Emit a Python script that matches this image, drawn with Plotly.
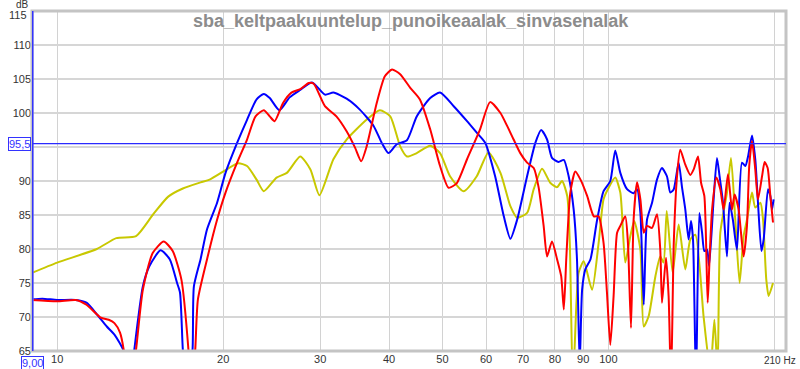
import math
import plotly.graph_objects as go

title_text = "sba_keltpaakuuntelup_punoikeaalak_sinvasenalak"

# ---- yellow series (keltainen) ----
yellow_f = [9.0, 10.0, 11.8, 12.8, 13.9, 14.9, 15.9, 16.9, 18.2, 18.9, 20.3, 21.3, 22.1, 23.0, 23.7,
            25.0, 26.1, 27.6, 28.8, 29.9, 31.7, 33.5, 36.4, 38.5, 40.2, 41.9, 43.1, 44.9, 47.5, 49.5,
            51.6, 54.6, 57.7, 60.6, 63.7, 66.4, 68.3, 71.2, 73.2, 75.8, 78.5, 80.7, 82.4, 84.2, 85.1,
            86.2, 87.5, 88.3, 90.2, 93.4, 96.0, 98.0, 100.1, 102.9, 105.1, 107.3, 109.6, 111.4, 114.3,
            115.9, 118.3, 121.7, 124.2, 125.9, 127.6, 130.8, 134.1, 137.9, 140.8, 143.8, 148.9, 153.1,
            155.7, 157.8, 159.6, 164.1, 166.9, 169.9, 173.0, 175.9, 178.4, 182.2, 184.7, 188.7, 190.8,
            193.4, 195.3, 198.9]
yellow_db = [76.5, 78.0, 80.0, 81.6, 81.9, 85.0, 87.7, 88.9, 89.8, 90.2, 91.7, 92.6, 92.2, 90.2, 88.5,
             90.5, 91.2, 93.6, 91.7, 87.9, 93.2, 96.1, 99.0, 100.4, 99.5, 95.1, 93.6, 94.1, 95.2, 94.1,
             90.7, 88.5, 90.7, 94.2, 91.2, 86.3, 84.6, 85.3, 88.8, 91.8, 89.7, 89.1, 90.0, 87.8, 80.9,
             60.0, 72.0, 76.5, 78.2, 74.0, 80.9, 87.3, 89.0, 90.5, 88.3, 78.0, 81.9, 84.1, 79.9,
             68.6, 70.1, 76.0, 78.9, 78.0, 85.6, 76.5, 83.6, 77.0, 81.4, 82.1, 69.9, 62.0,
             69.6, 62.0, 82.4, 88.3, 93.4, 84.3, 75.0, 81.9, 84.3, 88.3, 86.1, 86.8, 84.3,
             75.5, 73.1, 75.0]

# ---- blue series (sininen, vasen) ----
blue_f = [9.0, 9.4, 10.0, 10.8, 11.3, 11.8, 12.3, 12.7, 13.2, 13.5,
          13.8, 14.3, 14.7, 15.4, 16.0, 16.5, 16.7, 16.9, 17.2, 17.6,
          17.7, 18.2, 18.7, 19.5, 20.2, 21.2, 22.1, 23.0, 23.7, 24.3,
          25.3, 26.4, 27.6, 29.0, 30.6, 31.7, 33.5, 35.4, 37.5, 38.8,
          39.9, 41.3, 43.1, 44.9, 47.5, 49.5, 52.4, 55.4, 57.7, 59.8,
          62.3, 64.6, 66.4, 68.3, 71.2, 73.7, 75.5, 77.4, 79.0, 81.2,
          83.0, 84.7, 86.5, 87.7, 88.7, 89.6, 90.8, 92.8, 95.4, 98.0,
          100.8, 102.9, 105.1, 108.1, 111.1, 112.7, 114.3, 115.9, 117.5, 120.0,
          122.5, 125.1, 127.7, 129.5, 131.4, 134.1, 136.0, 137.9, 139.8, 141.2,
          142.4, 144.2, 146.2, 147.9, 149.3, 151.0, 152.3, 155.2, 157.4, 159.1,
          161.4, 164.1, 165.9, 168.2, 171.1, 174.7, 177.2, 179.2, 182.2, 184.7,
          186.8, 189.5, 191.3, 194.8, 196.7, 198.1, 199.4]
blue_db = [72.6, 72.7, 72.5, 72.5, 72.1, 70.4, 68.6, 67.4, 65.0, 58.0,
           65.2, 74.5, 77.5, 79.8, 78.5, 75.0, 73.6, 65.2, 58.0, 65.2,
           74.5, 78.5, 82.9, 86.8, 91.2, 95.6, 99.0, 102.0, 102.8, 102.2,
           100.4, 102.3, 103.4, 104.5, 102.7, 103.0, 102.1, 100.5, 98.1, 95.6,
           94.1, 95.4, 96.0, 99.5, 102.2, 103.0, 101.0, 98.8, 97.1, 95.6,
           90.7, 84.8, 81.5, 84.3, 90.7, 95.6, 97.5, 96.1, 93.4, 92.8,
           93.1, 90.7, 85.8, 78.5, 63.0, 74.0, 77.0, 78.5, 84.3, 88.5,
           90.0, 94.5, 91.2, 88.8, 88.2, 88.8, 85.3, 71.8, 84.3, 86.8,
           90.2, 91.9, 90.7, 88.3, 88.8, 92.7, 89.1, 85.8, 81.4, 84.1,
           81.4, 60.0, 85.3, 82.4, 79.7, 79.9, 77.5, 87.3, 93.4, 90.7,
           86.8, 78.9, 86.8, 84.3, 79.9, 92.7, 92.2, 93.6, 96.7, 93.2,
           86.8, 79.7, 81.4, 88.8, 87.8, 85.8, 87.3]

# ---- red series (punainen, oikea) ----
red_f = [9.0, 10.0, 10.8, 11.3, 12.0, 12.4, 12.7, 13.0, 13.2, 13.5,
         13.9, 14.3, 14.9, 15.6, 16.2, 16.8, 17.3, 17.5, 17.8, 18.0,
         18.7, 19.5, 20.2, 21.2, 22.1, 22.9, 23.7, 24.3, 24.8, 25.7,
         26.6, 27.6, 28.6, 29.2, 30.6, 32.1, 33.5, 34.7, 35.6, 36.4,
         38.0, 39.3, 40.5, 41.9, 43.7, 45.5, 47.5, 49.5, 51.3, 53.1,
         55.4, 58.5, 61.0, 63.7, 65.5, 67.3, 69.2, 71.2, 73.2, 74.7,
         76.3, 77.4, 79.0, 80.7, 82.1, 83.0, 83.9, 85.3, 87.1, 89.0,
         91.5, 94.1, 96.0, 98.0, 99.4, 100.8, 102.2, 103.7, 105.1, 107.3,
         108.5, 109.9, 111.1, 112.7, 114.3, 115.9, 117.5, 120.0, 122.5, 124.2,
         125.1, 127.2, 128.6, 129.9, 131.4, 133.2, 135.0, 137.9, 140.8, 142.8,
         145.4, 147.3, 149.3, 151.4, 152.5, 154.2, 157.0, 159.6, 161.8, 164.8,
         167.6, 169.4, 172.3, 175.9, 178.4, 180.1, 182.2, 184.7, 186.8, 190.0,
         192.1, 194.5, 196.7, 198.9]
red_db = [72.5, 72.3, 72.5, 71.8, 69.9, 69.6, 69.1, 67.7, 65.2, 58.0,
          65.2, 74.0, 79.4, 81.1, 79.7, 75.5, 65.2, 58.0, 65.2, 72.6,
          78.5, 84.3, 88.3, 92.7, 96.1, 99.5, 100.4, 99.5, 98.8, 101.5,
          103.0, 103.5, 104.4, 104.3, 101.0, 99.5, 97.3, 94.9, 92.9, 95.0,
          101.5, 105.4, 106.4, 105.7, 103.7, 102.0, 97.6, 92.2, 89.0, 89.7,
          93.2, 97.6, 101.6, 100.0, 98.1, 96.1, 94.1, 92.7, 91.9, 89.1,
          83.4, 78.9, 81.1, 78.5, 76.0, 71.1, 78.9, 88.3, 91.4, 90.2,
          87.8, 84.8, 84.8, 80.9, 73.6, 65.9, 73.1, 82.4, 83.4, 84.8,
          80.9, 68.4, 84.3, 89.8, 87.3, 82.4, 83.4, 83.1, 85.1, 79.9,
          72.1, 78.7, 73.1, 60.0, 80.9, 90.7, 94.6, 92.4, 90.9, 91.7,
          93.6, 89.7, 87.8, 72.1, 78.0, 85.8, 90.5, 88.8, 85.8, 91.0,
          85.8, 88.0, 85.8, 78.9, 83.4, 92.2, 95.9, 91.7, 87.3, 90.7,
          92.8, 91.9, 87.8, 83.9]

# axis settings
x_min, x_max = 9.0, 210.0
y_min, y_max = 65, 115
x_tick_vals = [10, 20, 30, 40, 50, 60, 70, 80, 90, 100, 200]
x_tick_text = ["10", "20", "30", "40", "50", "60", "70", "80", "90", "100", ""]
y_tick_vals = [65, 70, 75, 80, 85, 90, 95, 100, 105, 110, 115]
y_tick_text = ["65", "70", "75", "80", "85", "90", "", "100", "105", "110", ""]
y_top_label = "115"
cursor_db = 95.5
cursor_db_label = "95,5"
cursor_f_label = "9,00"

fig = go.Figure()
series = [
    (yellow_f, yellow_db, "#c8c800"),
    (blue_f, blue_db, "#0000ff"),
    (red_f, red_db, "#ff0000"),
]
for fx, dy, col in series:
    fig.add_trace(go.Scatter(x=fx, y=dy, mode="lines",
                             line=dict(color=col, width=2, shape="spline", smoothing=0.6),
                             hoverinfo="skip"))

fig.update_layout(
    width=800, height=369,
    margin=dict(l=32, r=14, t=11, b=18, autoexpand=False),
    paper_bgcolor="white", plot_bgcolor="white",
    showlegend=False,
    font=dict(family="Liberation Sans, Arial, sans-serif", size=11, color="#333333"),
)
fig.update_xaxes(type="log", range=[math.log10(x_min), math.log10(x_max)],
                 tickmode="array", tickvals=x_tick_vals, ticktext=x_tick_text,
                 showgrid=True, gridcolor="#d2d2d2", gridwidth=1, automargin=False,
                 zeroline=False, showline=False, ticks="")
fig.update_yaxes(range=[y_min, y_max], tickmode="array", tickvals=y_tick_vals, ticktext=y_tick_text,
                 showgrid=True, gridcolor="#d6d6d6", gridwidth=1.5, automargin=False,
                 zeroline=False, showline=False, ticks="")

# frame
fig.add_shape(type="rect", xref="paper", yref="paper", x0=0, x1=1, y0=0, y1=1,
              line=dict(color="#c4c4c4", width=3), layer="above")
# cursor lines
fig.add_shape(type="line", xref="paper", yref="y", x0=0, x1=1, y0=cursor_db, y1=cursor_db,
              line=dict(color="#2a2aff", width=1.2), layer="above")
fig.add_shape(type="line", xref="paper", yref="paper", x0=0.001, x1=0.001, y0=0, y1=1,
              line=dict(color="#3333ff", width=1.5), layer="above")

# title
fig.add_annotation(text=title_text, xref="paper", yref="paper", x=0.503, y=1,
                   yanchor="middle", yshift=-10, showarrow=False,
                   font=dict(size=18, color="#8c8c8c", weight="bold"))
# axis unit labels
fig.add_annotation(text="dB", xref="paper", yref="paper", x=0, y=1, xanchor="center",
                   xshift=-10, yanchor="bottom", yshift=-1,
                   showarrow=False, font=dict(size=10, color="#333333"))
fig.add_annotation(text=y_top_label, xref="paper", yref="y", x=0, y=y_max, xanchor="right",
                   xshift=-3, yanchor="middle", yshift=-4,
                   showarrow=False, font=dict(size=11, color="#333333"))
fig.add_annotation(text="210 Hz", xref="paper", yref="paper", x=1, y=0, xanchor="right",
                   xshift=12, yanchor="top", yshift=-2,
                   showarrow=False, font=dict(size=10, color="#333333"))
# cursor value boxes
fig.add_annotation(text=cursor_f_label, xref="paper", yref="paper", x=0, y=0, xanchor="center",
                   yanchor="top", yshift=-5, showarrow=False, bgcolor="white",
                   bordercolor="#3333ff", borderwidth=1, borderpad=0,
                   font=dict(size=11, color="#3333ff"))
fig.add_annotation(text=cursor_db_label, xref="paper", yref="y", x=0, y=cursor_db, xanchor="right",
                   xshift=-1, showarrow=False, bgcolor="white", bordercolor="#3333ff",
                   borderwidth=1, borderpad=0, font=dict(size=11, color="#3333ff"))

fig.write_html("out.html", config={"displayModeBar": False},
               post_script="document.body.style.margin='0';document.body.style.padding='0';")
